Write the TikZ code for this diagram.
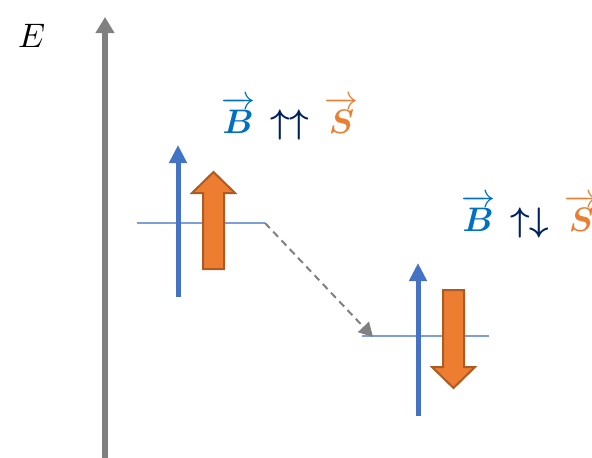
\documentclass[tikz,border=0pt]{standalone}
\usepackage{amsmath}
\usepackage{bm}
\usepackage{xcolor}
\usepackage{tikz}
\usetikzlibrary{arrows.meta}

\definecolor{bvec}{RGB}{0,112,192}
\definecolor{svec}{RGB}{237,125,49}
\definecolor{sedge}{RGB}{174,90,33}
\definecolor{navy}{RGB}{0,32,96}
\definecolor{spin}{RGB}{68,114,196}
\definecolor{level}{RGB}{125,158,216}
\newcommand{\lbltext}[1]{\scalebox{3.4}{#1}}

\begin{document}
\begin{tikzpicture}[x=1pt, y=-1pt,
    axis/.style={draw={rgb,255:red,128;green,128;blue,128}, line width=6pt, -{Triangle[width=18pt,length=16pt]}},
    levelline/.style={draw=level, line width=2pt},
    moment/.style={draw=spin, line width=5pt, -{Triangle[width=17pt,length=18pt]}},
    block/.style={fill=svec, draw=sedge, line width=2pt, line join=miter},
    trans/.style={draw=gray, line width=2pt, dash pattern=on 7pt off 5pt, -{Triangle[width=15pt,length=14pt]}},
    lbl/.style={inner sep=0pt}]
    \useasboundingbox (0,0) rectangle (592,458);
    \clip (0,0) rectangle (592,458);

    % Energieachse
    \coordinate (ax-bot) at (105,462);
    \coordinate (ax-top) at (105,17);
    \draw[axis] (ax-bot) -- (ax-top);
    \node[lbl, anchor=base west] (elab) at (18,47) {\lbltext{$E$}};

    % Niveaus
    \coordinate (hi-l) at (137,223);
    \coordinate (hi-r) at (265,223);
    \coordinate (lo-l) at (362,336);
    \coordinate (lo-r) at (489,336);
    \coordinate (lo-in) at (373,337);
    \draw[levelline] (hi-l) -- (hi-r);
    \draw[levelline] (lo-l) -- (lo-r);
    \draw[trans] (hi-r) -- (lo-in);

    % Magnetfeld
    \coordinate (b1-bot) at (178,297);
    \coordinate (b1-top) at (178,145);
    \coordinate (b2-bot) at (418,416);
    \coordinate (b2-top) at (418,263);
    \draw[moment] (b1-bot) -- (b1-top);
    \draw[moment] (b2-bot) -- (b2-top);

    % Spin
    \draw[block] (203,269) -- (203,193) -- (192,193) -- (213.5,172)
        -- (235,193) -- (224,193) -- (224,269) -- cycle;
    \draw[block] (443,290) -- (443,367) -- (432,367) -- (453.5,388)
        -- (475,367) -- (464,367) -- (464,290) -- cycle;

    % Beschriftungen
    \node[lbl, anchor=base west] (par) at (221,133)
        {\lbltext{$\color{bvec}\overrightarrow{\bm{B}}\mkern8mu\color{navy}{\bm{\uparrow\uparrow}}\mkern8mu\color{svec}\overrightarrow{\bm{S}}$}};
    \node[lbl, anchor=base west] (anti) at (461,231)
        {\lbltext{$\color{bvec}\overrightarrow{\bm{B}}\mkern8mu\color{navy}{\bm{\uparrow\downarrow}}\mkern8mu\color{svec}\overrightarrow{\bm{S}}$}};
\end{tikzpicture}
\end{document}
